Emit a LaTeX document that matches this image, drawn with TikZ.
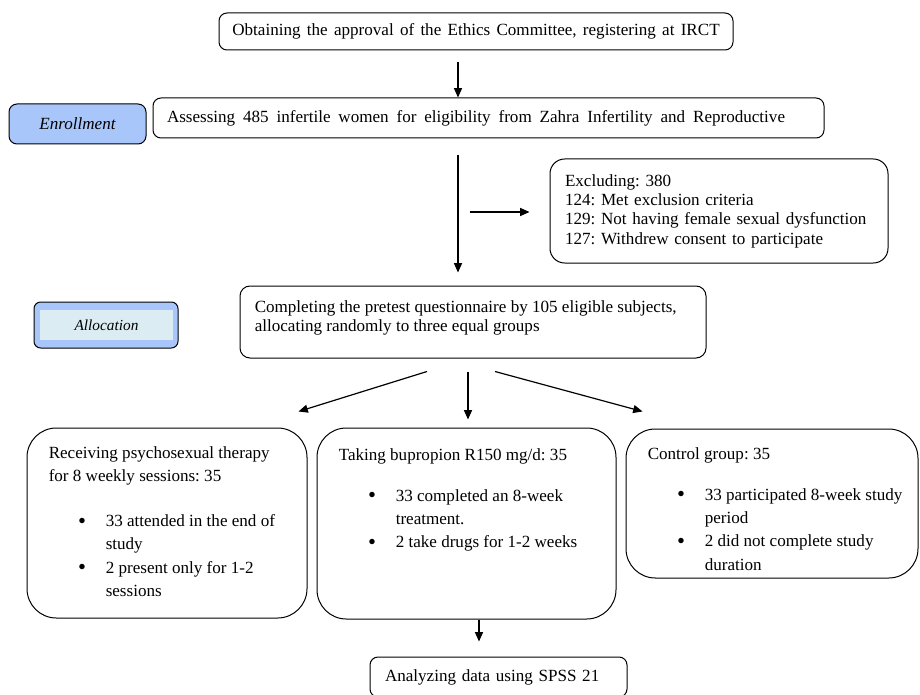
\documentclass[tikz,border=0pt]{standalone}
\usepackage{fontspec}
\setmainfont{Liberation Serif}
\frenchspacing
\usetikzlibrary{arrows.meta,calc}
\definecolor{enrolblue}{HTML}{A8C6FA}
\definecolor{allocpale}{HTML}{DBEDF3}
\newcommand{\bul}{\hspace*{22pt}\makebox[20.75pt][l]{\raisebox{-0.2ex}{\fontsize{17}{17}\selectfont\textbullet}}}
\newcommand{\cont}{\hspace*{42.75pt}}

\begin{document}
\begin{tikzpicture}[x=0.75pt,y=-0.75pt,
    every node/.style={font=\fontsize{12.8}{14.2}\selectfont},
    box/.style={draw,line width=0.75pt,rounded corners=6pt},
    grpbox/.style={draw,line width=0.75pt,rounded corners=22pt},
    txt/.style={inner sep=0pt,anchor=north west,align=left},
    grptxt/.style={txt,font=\fontsize{12.8}{17.5}\selectfont},
    widesp/.style={execute at begin node={\spaceskip=#1 plus 1pt minus 1pt}},
    flow/.style={->,line width=0.9pt},
    >={Triangle[length=7pt,width=6pt]}]

\useasboundingbox (0,0) rectangle (920,695);

% enrollment
\node (ethics)[box,widesp=4.7pt,minimum width=385.5pt,minimum height=27.75pt] at (476,31.5) {Obtaining the approval of the Ethics Committee, registering at IRCT};
\node (enrol)[box,fill=enrolblue,minimum width=102.75pt,minimum height=30pt,font=\fontsize{12.8}{14.2}\selectfont\itshape] at (77.5,124) {Enrollment};
\node (assess)[box,widesp=5.9pt,minimum width=503.25pt,minimum height=30pt,text width=482.25pt,inner xsep=10.5pt,align=left] at (488.5,118) {Assessing 485 infertile women for eligibility from Zahra Infertility and Reproductive};
\node (excl)[box,rounded corners=11pt,minimum width=253.5pt,minimum height=78pt,text width=231pt,inner xsep=11.25pt,align=left,font=\fontsize{12.8}{14.5}\selectfont] at (719,211) {Excluding: 380\\124: Met exclusion criteria\\129: Not having female sexual dysfunction\\127: Withdrew consent to participate};

% allocation
\node (alloc)[box,rounded corners=5pt,fill=enrolblue,minimum width=108pt,minimum height=34.5pt] at (106,325) {};
\node (allocin)[fill=allocpale,minimum width=99.75pt,minimum height=22.5pt,font=\fontsize{11.5}{13}\selectfont\itshape] at (106.5,325) {Allocation};
\node (compl)[box,rounded corners=7.5pt,minimum width=349.5pt,minimum height=54pt] at (473,322) {};
\node (compltxt)[txt,font=\fontsize{12.8}{13.8}\selectfont] at ($(compl.north west)+(15,15)$) {Completing the pretest questionnaire by 105 eligible subjects,\\allocating randomly to three equal groups};

% groups
\node (grp1)[grpbox,minimum width=210pt,minimum height=142.5pt] at (167,523) {};
\node (grp1txt)[grptxt] at ($(grp1.north west)+(22,19)$) {Receiving psychosexual therapy\\for 8 weekly sessions: 35\\[16pt]\bul 33 attended in the end of\\\cont study\\\bul 2 present only for 1-2\\\cont sessions};
\node (grp2)[grpbox,minimum width=224.25pt,minimum height=143.25pt] at (466.5,523.5) {};
\node (grp2txt)[grptxt] at ($(grp2.north west)+(22,21)$) {Taking bupropion R150 mg/d: 35\\[13pt]\bul 33 completed an 8-week\\\cont treatment.\\\bul 2 take drugs for 1-2 weeks};
\node (grp3)[grpbox,minimum width=219pt,minimum height=111.75pt] at (772,503.5) {};
\node (grp3txt)[grptxt] at ($(grp3.north west)+(22,19)$) {Control group: 35\\[13pt]\bul 33 participated 8-week study\\\cont period\\\bul 2 did not complete study\\\cont duration};

% analysis
\node (analyze)[box,minimum width=192.75pt,minimum height=30pt,text width=170.25pt,inner xsep=11.25pt,align=left] at (498.5,677) {Analyzing data using SPSS 21};

% arrows
\draw[flow] ($(ethics.south)+(-18,12)$) -- ($(assess.north)+(-30.5,0)$);
\draw[flow] ($(assess.south)+(-30.5,17)$) -- ($(compl.north)+(-15,-13)$);
\draw[flow] ($(excl.west)+(-80,1)$) -- ($(excl.west)+(-20,1)$);
\draw[flow] ($(compl.south)+(-46,13)$) -- ($(grp1.north east)+(-9,-16)$);
\draw[flow] ($(compl.south)+(-5,13)$) -- ($(grp2.north)+(1.5,-8)$);
\draw[flow] ($(compl.south)+(22,13)$) -- ($(grp3.north west)+(17,-17)$);
\draw[flow] ($(grp2.south)+(12.5,0)$) -- ($(analyze.north)+(-19.5,-15)$);
\end{tikzpicture}
\end{document}
